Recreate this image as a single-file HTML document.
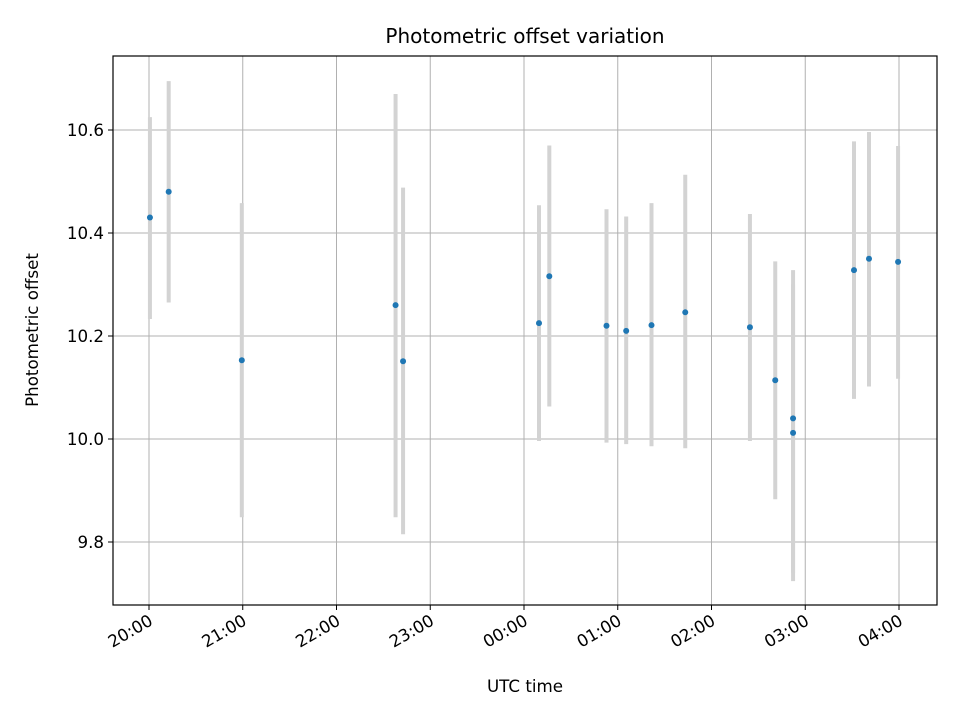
<!DOCTYPE html>
<html><head><meta charset="utf-8"><style>
body{margin:0;background:#fff;}
svg{display:block;font-family:"DejaVu Sans","Liberation Sans",sans-serif;}
</style></head><body>
<svg id="chart" width="960" height="720">
<rect width="960" height="720" fill="#fff"/>
<text x="525" y="43" text-anchor="middle" font-size="20">Photometric offset variation</text>
<g id="grid"></g>
<g id="bars"></g>
<g id="pts"></g>
<rect x="113" y="56" width="824" height="549" fill="none" stroke="#000" stroke-width="1.2"/>
<g id="axes"></g>
<text x="525" y="692" text-anchor="middle" font-size="16.7">UTC time</text>
<text x="38" y="330" text-anchor="middle" font-size="16.7" transform="rotate(-90 38 330)">Photometric offset</text>
</svg>
<script>
const hours=[0.01,0.21,0.99,2.63,2.71,4.16,4.27,4.88,5.09,5.36,5.72,6.41,6.68,6.87,6.87,7.52,7.68,7.99];
const values=[10.43,10.48,10.153,10.26,10.151,10.225,10.316,10.22,10.21,10.221,10.246,10.217,10.114,10.04,10.012,10.328,10.35,10.344];
const lows=[10.233,10.265,9.848,9.848,9.815,9.996,10.063,9.993,9.99,9.986,9.982,9.996,9.883,9.724,9.74,10.078,10.102,10.117];
const highs=[10.625,10.695,10.458,10.67,10.488,10.454,10.57,10.446,10.432,10.458,10.513,10.437,10.345,10.328,10.3,10.578,10.596,10.569];
const xTickLabels=["20:00","21:00","22:00","23:00","00:00","01:00","02:00","03:00","04:00"];
const yTicks=[9.8,10.0,10.2,10.4,10.6];
const NS="http://www.w3.org/2000/svg";
function X(h){return 149+h*93.75;}
function Y(v){return 439-(v-10)*515;}
function mk(tag,attrs,parent){const e=document.createElementNS(NS,tag);for(const k in attrs)e.setAttribute(k,attrs[k]);document.getElementById(parent).appendChild(e);return e;}
xTickLabels.forEach((lab,i)=>{
 const x=X(i);
 let g=mk('line',{x1:x,x2:x,y1:56,y2:605,stroke:'#b0b0b0','stroke-width':1},'grid');
 
 
 let t=mk('line',{x1:x,x2:x,y1:605,y2:610,stroke:'#000'},'axes');
 
 
 let tx=mk('text',{x:x+5,y:624,'text-anchor':'end','font-size':16.7,transform:`rotate(-30 ${x+5} 624)`},'axes');
 tx.textContent=lab;
 
 
});
yTicks.forEach(v=>{
 const y=Y(v);
 let g=mk('line',{x1:113,x2:937,y1:y,y2:y,stroke:'#b0b0b0','stroke-width':1},'grid');
 
 
 let t=mk('line',{x1:108,x2:113,y1:y,y2:y,stroke:'#000'},'axes');
 
 
 let tx=mk('text',{x:104,y:y+6,'text-anchor':'end','font-size':16.7},'axes');
 tx.textContent=v.toFixed(1);
 
 
});
hours.forEach((h,i)=>{
 let b=mk('line',{x1:X(h),x2:X(h),y1:Y(lows[i]),y2:Y(highs[i]),stroke:'#d3d3d3','stroke-width':4},'bars');
 
 
 let p=mk('circle',{cx:X(h),cy:Y(values[i]),r:3,fill:'#1f77b4'},'pts');
 
 
});
</script>
</body></html>
